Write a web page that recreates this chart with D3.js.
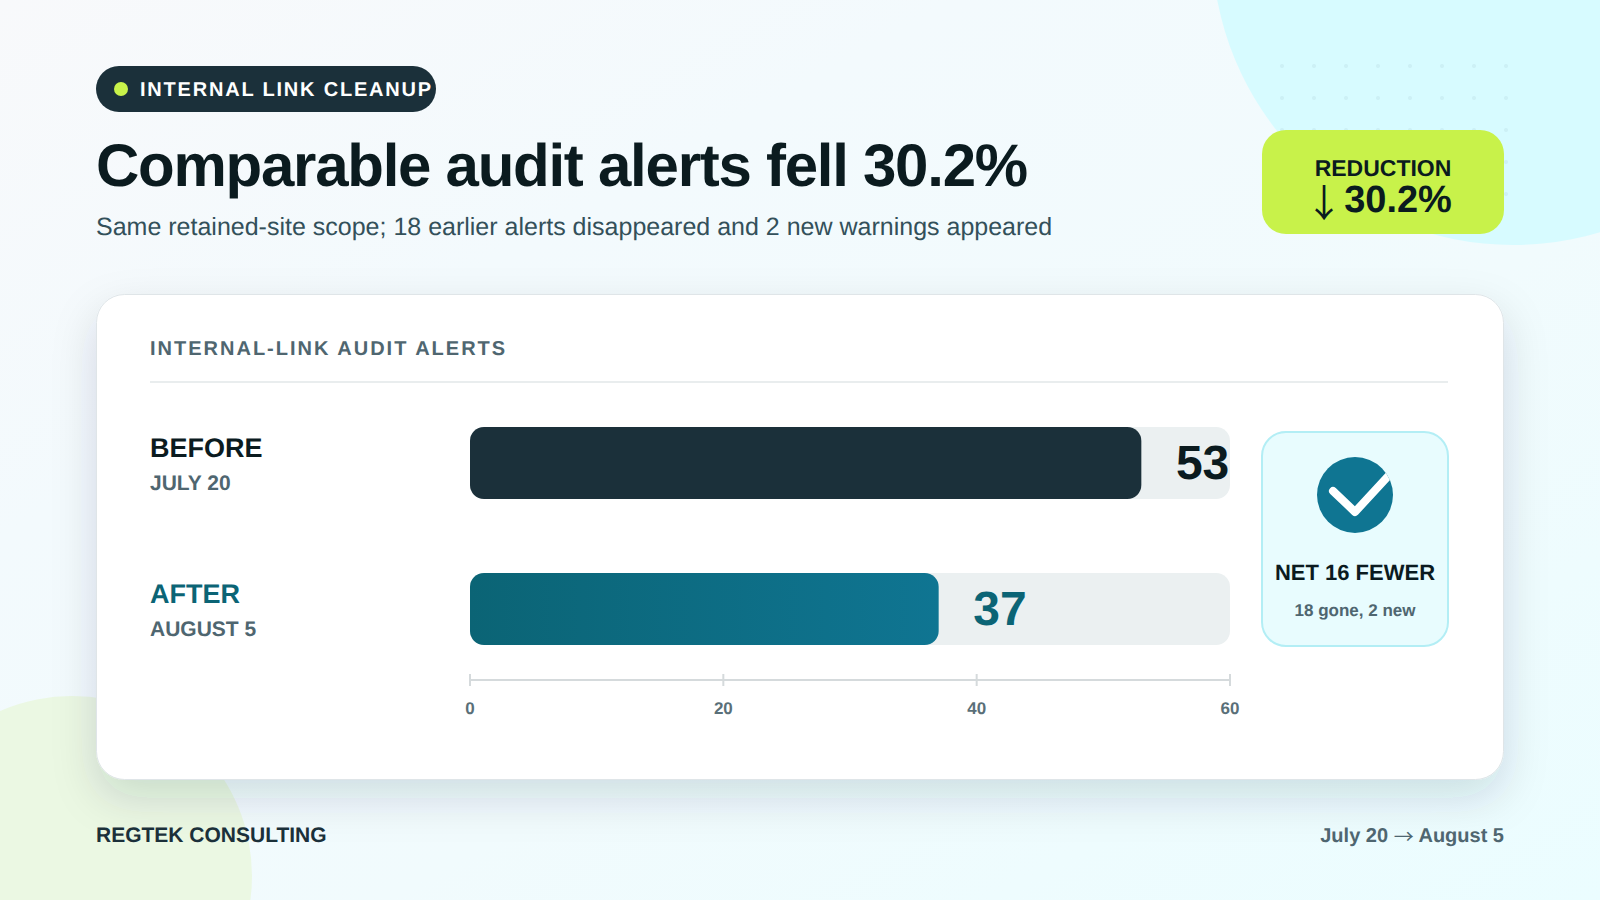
<!DOCTYPE html>
<html><head><meta charset="utf-8">
<script src="https://cdn.jsdelivr.net/npm/d3@7"></script>
<style>html,body{margin:0;padding:0;background:#fff;overflow:hidden}svg{display:block}text{font-family:"Liberation Sans",Arial,sans-serif;font-weight:700;text-rendering:geometricPrecision}</style>
</head><body><div id="c"></div>
<script>
const rowLabels=["BEFORE","AFTER"];
const rowDates=["JULY 20","AUGUST 5"];
const rowValues=[53,37];
const axisTicks=[0,20,40,60];
const W=1600,H=900;
const svg=d3.select("#c").append("svg").attr("width",W).attr("height",H);
const defs=svg.append("defs");
const bg=defs.append("linearGradient").attr("id","bg").attr("x1",0).attr("y1",0).attr("x2",1).attr("y2",1);
bg.append("stop").attr("offset",0).attr("stop-color","#f8f9fb");
bg.append("stop").attr("offset",.3).attr("stop-color","#f3fafd");
bg.append("stop").attr("offset",.62).attr("stop-color","#f1fbfd");
bg.append("stop").attr("offset",1).attr("stop-color","#ebfdff");
const bar=defs.append("linearGradient").attr("id","barG");
bar.append("stop").attr("offset",0).attr("stop-color","#0b6475");
bar.append("stop").attr("offset",1).attr("stop-color","#0f7592");
const f=defs.append("filter").attr("id","sh").attr("x","-10%").attr("y","-20%").attr("width","120%").attr("height","150%");
f.append("feDropShadow").attr("dx",0).attr("dy",18).attr("stdDeviation",22).attr("flood-color","#1b303a").attr("flood-opacity",.14);
defs.append("clipPath").attr("id","chk").append("circle").attr("cx",1355).attr("cy",495).attr("r",38);

svg.append("rect").attr("width",W).attr("height",H).attr("fill","url(#bg)");
svg.append("circle").attr("cx",1513).attr("cy",-56).attr("r",301).attr("fill","#d7fbff");
svg.append("circle").attr("cx",72).attr("cy",876).attr("r",180).attr("fill","#ebf8e3");
const dots=svg.append("g").attr("fill","#1b303a").attr("fill-opacity",.05);
d3.range(8).forEach(i=>d3.range(5).forEach(j=>dots.append("circle").attr("cx",1282+i*32).attr("cy",66+j*32).attr("r",2)));

// header
svg.append("rect").attr("x",96).attr("y",66).attr("width",340).attr("height",46).attr("rx",23).attr("fill","#1b303a");
svg.append("circle").attr("cx",121).attr("cy",89).attr("r",7).attr("fill","#c8f24a");
svg.append("text").attr("x",140).attr("y",96).attr("font-size",20).attr("letter-spacing",1.8).attr("fill","#fff").text("INTERNAL LINK CLEANUP");
svg.append("text").attr("x",96).attr("y",186).attr("font-size",60).attr("letter-spacing",-1.26).attr("fill","#0b1b1f").text("Comparable audit alerts fell 30.2%");
svg.append("text").attr("x",96).attr("y",235).attr("font-size",25).attr("fill","#33505a").style("font-weight",400).text("Same retained-site scope; 18 earlier alerts disappeared and 2 new warnings appeared");

// badge
svg.append("rect").attr("x",1262).attr("y",130).attr("width",242).attr("height",104).attr("rx",24).attr("fill","#c8f24a");
svg.append("text").attr("x",1383).attr("y",175.5).attr("text-anchor","middle").attr("font-size",23).attr("fill","#0b1b1f").text("REDUCTION");
const big=svg.append("text").attr("x",1378.5).attr("y",212).attr("text-anchor","middle").attr("font-size",38).attr("fill","#0b1b1f");
big.append("tspan").attr("dy",5).style("font-family","'Noto Sans CJK SC'").style("font-weight",400).text("↓");
big.append("tspan").attr("dx",-9.5).attr("dy",-5).text(" 30.2%");

// card
svg.append("rect").attr("x",96.5).attr("y",294.5).attr("width",1407).attr("height",485).attr("rx",28).attr("fill","#fff").attr("stroke","#dfe5e8").attr("filter","url(#sh)");
svg.append("text").attr("x",150).attr("y",355).attr("font-size",20).attr("letter-spacing",2).attr("fill","#4f6670").text("INTERNAL-LINK AUDIT ALERTS");
svg.append("line").attr("x1",150).attr("x2",1448).attr("y1",382).attr("y2",382).attr("stroke","#e2e7e9").attr("stroke-width",1.5);

// chart
const x=d3.scaleLinear().domain([0,60]).range([470,1230]);
const y=d3.scaleBand().domain(rowLabels).range([427,645]).paddingInner(74/146);
const rowColor=["#0b1b1f","#0b6475"];
const rows=svg.append("g").selectAll("g").data(rowLabels).join("g");
rows.append("rect").attr("x",x(0)).attr("y",d=>y(d)).attr("width",x(60)-x(0)).attr("height",y.bandwidth()).attr("rx",14).attr("fill","#ebf0f1");
rows.append("rect").attr("x",x(0)).attr("y",d=>y(d)).attr("width",(d,i)=>x(rowValues[i])-x(0)).attr("height",y.bandwidth()).attr("rx",14).attr("fill",(d,i)=>i?"url(#barG)":"#1b303a");
rows.append("text").attr("x",(d,i)=>x(rowValues[i])+34.6).attr("y",d=>y(d)+y.bandwidth()/2+16).attr("font-size",48).attr("fill",(d,i)=>rowColor[i]).text((d,i)=>rowValues[i]);
rows.append("text").attr("x",150).attr("y",d=>y(d)+30).attr("font-size",27).attr("fill",(d,i)=>rowColor[i]).text(d=>d);
rows.append("text").attr("x",150).attr("y",d=>y(d)+63).attr("font-size",21).attr("fill","#4f6670").text((d,i)=>rowDates[i]);

const ax=svg.append("g").attr("transform","translate(0,680)").call(d3.axisBottom(x).tickValues(axisTicks).offset(0).tickSize(6).tickPadding(16).tickFormat(d3.format("d")));
ax.select(".domain").attr("stroke","#d5dadc").attr("stroke-width",2).attr("d","M470,0H1230");
ax.selectAll(".tick line").attr("stroke","#d5dadc").attr("stroke-width",2).attr("y1",-6).attr("y2",6);
ax.selectAll(".tick text").attr("fill","#5a6f78").attr("font-size",17).attr("font-family",null);

// callout
svg.append("rect").attr("x",1262).attr("y",432).attr("width",186).attr("height",214).attr("rx",24).attr("fill","#e8fcfe").attr("stroke","#b3eef5").attr("stroke-width",2);
svg.append("circle").attr("cx",1355).attr("cy",495).attr("r",38).attr("fill","#0f7592");
svg.append("path").attr("clip-path","url(#chk)").attr("d",d3.line()([[1333,491],[1355,512],[1392,472]])).attr("fill","none").attr("stroke","#fff").attr("stroke-width",8).attr("stroke-linecap","round").attr("stroke-linejoin","round");
svg.append("text").attr("x",1355).attr("y",580).attr("text-anchor","middle").attr("font-size",22).attr("fill","#0b1b1f").text("NET 16 FEWER");
svg.append("text").attr("x",1355).attr("y",616).attr("text-anchor","middle").attr("font-size",17).attr("fill","#4f6670").text("18 gone, 2 new");

// footer
svg.append("text").attr("x",96).attr("y",842).attr("font-size",21).attr("fill","#1b303a").text("REGTEK CONSULTING");
const ft=svg.append("text").attr("x",1504).attr("y",842).attr("text-anchor","end").attr("font-size",20).attr("fill","#4f6670");
ft.append("tspan").text("July 20 ");
ft.append("tspan").attr("dy",2).style("font-family","'Noto Sans CJK SC'").style("font-weight",400).text("→");
ft.append("tspan").attr("dy",-2).text(" August 5");
</script></body></html>
